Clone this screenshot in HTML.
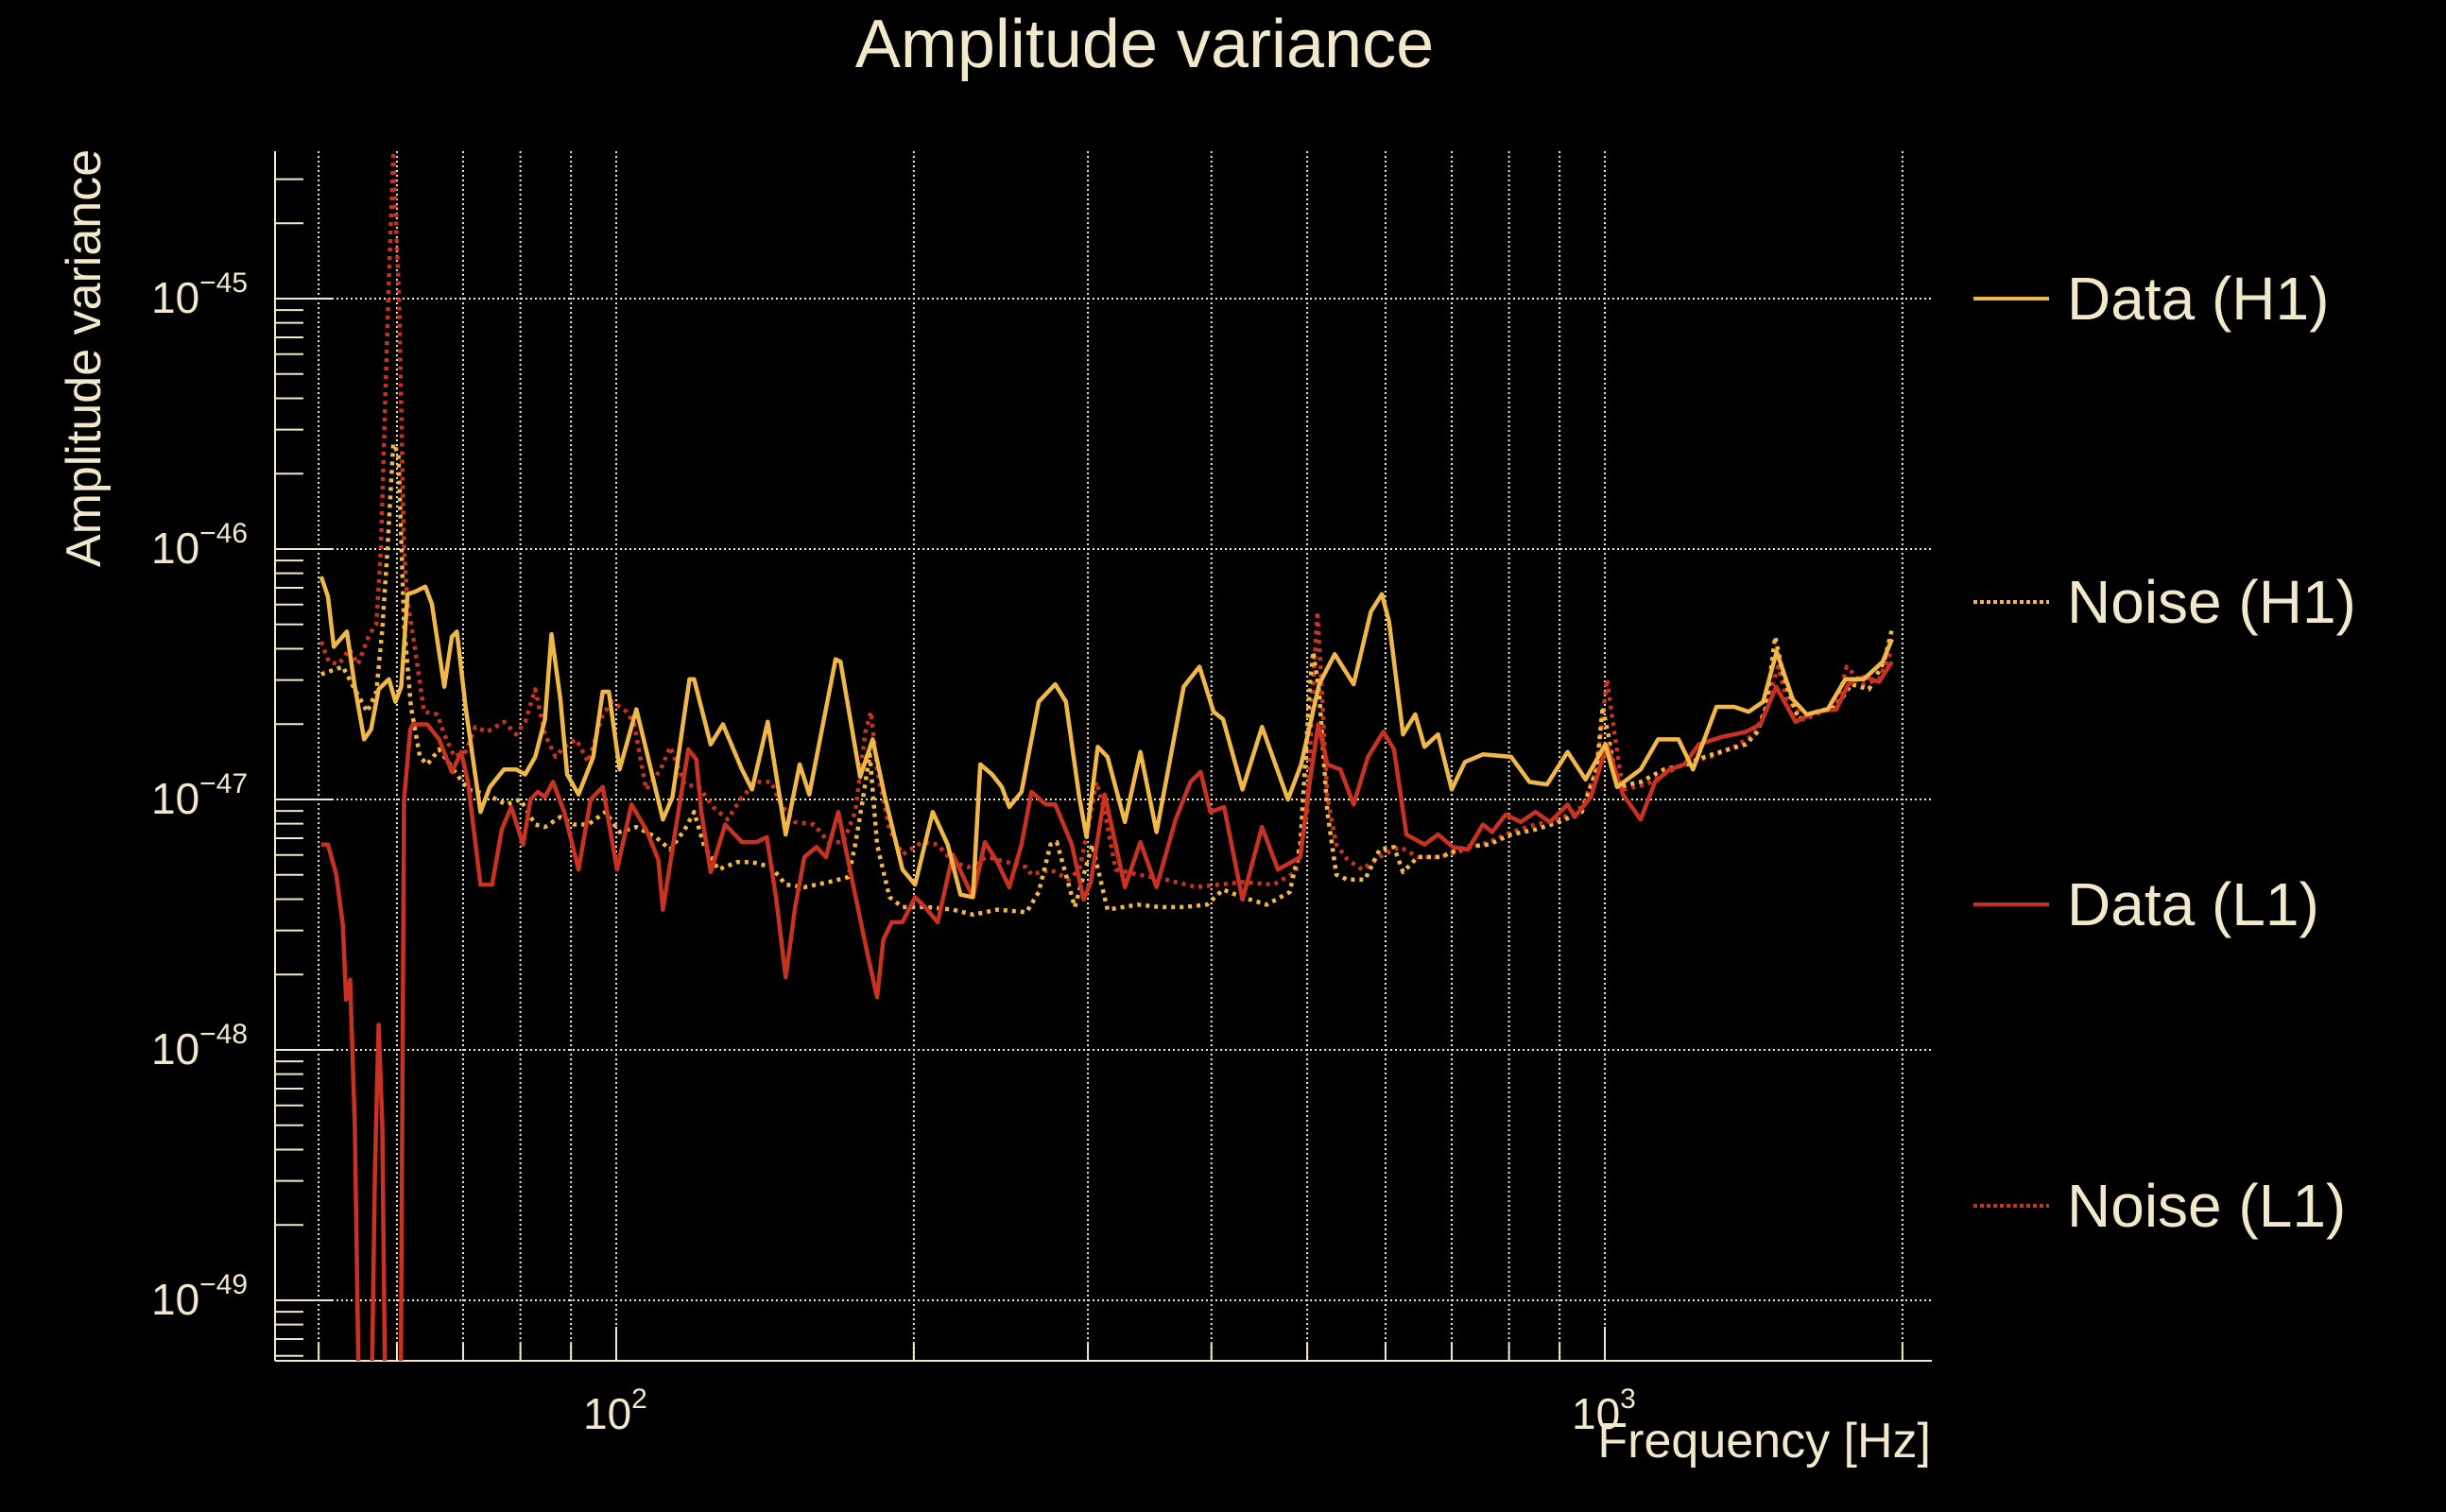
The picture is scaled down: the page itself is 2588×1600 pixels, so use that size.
<!DOCTYPE html>
<html><head><meta charset="utf-8"><style>
html,body{margin:0;padding:0;background:#000;}
svg{display:block;font-family:"Liberation Sans",sans-serif;}
</style></head><body>
<svg id="chart" width="2588" height="1600" viewBox="0 0 2588 1600" xmlns="http://www.w3.org/2000/svg">
<rect width="2588" height="1600" fill="#000"/>
<text x="1211" y="71" font-size="72" fill="#f2e8cc" text-anchor="middle">Amplitude variance</text>
<text transform="translate(106,379) rotate(-90)" font-size="52" fill="#f2e8cc" text-anchor="middle">Amplitude variance</text>
<text x="2043" y="1542" font-size="52" fill="#f2e8cc" text-anchor="end">Frequency [Hz]</text>
<g id="grid"></g><g id="axes"></g>
<defs><clipPath id="plotclip"><rect x="291" y="160" width="1753" height="1280"/></clipPath></defs>
<g id="series" clip-path="url(#plotclip)"></g>
<g id="legend"></g>
</svg>
<script>
// ---- data (frequency in Hz, log10 amplitude variance) ----
const dataH1Freq=[50.3,51.1,51.8,53.4,54.4,55.6,56.5,57.5,58.9,59.8,60.6,61.5,62.6,64.1,65.1,67,68.2,69,70.4,72.9,74.5,77,79.2,80.9,82.8,84.7,86,87.8,89.2,91.6,94.8,96.9,98.3,100.8,104.8,107.2,111.5,114,118.6,119.9,124.6,128.2,134,137.2,142.3,148.4,153.3,156.8,166.7,168.6,176.5,181.7,187,194.8,200.6,209,216.4,223,229.5,233.5,240,245.5,249.8,257,267.5,278,285,294,299,307,314,327,339,352,375,389,402,411,430,450,478,493,514,533,557,580,595,605,625,643,657,678,700,722,753,804,839,874,917,956,1001,1029,1087,1132,1187,1228,1297,1352,1398,1446,1492,1549,1600,1680,1751,1827,1910,1952];
const dataH1Log=[-46.11,-46.19,-46.39,-46.33,-46.55,-46.76,-46.72,-46.56,-46.52,-46.61,-46.55,-46.18,-46.17,-46.15,-46.22,-46.55,-46.35,-46.33,-46.63,-47.05,-46.95,-46.88,-46.88,-46.9,-46.83,-46.68,-46.34,-46.6,-46.9,-46.98,-46.83,-46.57,-46.57,-46.88,-46.64,-46.8,-47.08,-46.99,-46.52,-46.52,-46.78,-46.7,-46.88,-46.96,-46.69,-47.14,-46.86,-46.98,-46.44,-46.45,-46.91,-46.76,-46.99,-47.28,-47.34,-47.05,-47.18,-47.38,-47.39,-46.86,-46.9,-46.95,-47.03,-46.97,-46.61,-46.54,-46.61,-46.99,-47.15,-46.79,-46.83,-47.09,-46.81,-47.13,-46.55,-46.47,-46.65,-46.68,-46.96,-46.71,-47.0,-46.86,-46.54,-46.42,-46.54,-46.25,-46.18,-46.29,-46.74,-46.66,-46.79,-46.74,-46.96,-46.85,-46.82,-46.83,-46.93,-46.94,-46.81,-46.92,-46.78,-46.95,-46.88,-46.76,-46.76,-46.88,-46.63,-46.63,-46.65,-46.61,-46.41,-46.6,-46.66,-46.64,-46.52,-46.52,-46.45,-46.36];
const noiseH1Freq=[50.3,52.9,54.4,56,57.2,58,58.7,59.5,60.2,61,62,63.3,64.4,66.2,69,70.8,74,77.4,80,82.8,84.7,87.8,90.6,93.7,97.5,100.8,104.8,109.6,113.4,117.3,119.9,122.6,126.8,132.6,137.2,143.5,148.4,155,164,171.7,174.5,177.6,180.5,183.6,189,194.8,206.5,219,229.7,243,260,267.5,275,279,285,291,303,314,337,355,375,396,411,430,455,480,492,503,507,514,524,535,549,572,592,612,625,647,682,722,763,804,851,899,948,981,995,1008,1029,1087,1148,1211,1262,1333,1389,1427,1456,1487,1517,1570,1635,1715,1775,1850,1916,1952];
const noiseH1Log=[-46.5,-46.47,-46.56,-46.65,-46.57,-46.32,-46.0,-45.58,-45.62,-46.3,-46.63,-46.83,-46.86,-46.8,-46.9,-46.96,-46.98,-47.02,-47.0,-47.1,-47.11,-47.07,-47.1,-47.1,-47.05,-47.13,-47.11,-47.15,-47.2,-47.12,-47.05,-47.18,-47.28,-47.25,-47.25,-47.27,-47.34,-47.35,-47.33,-47.31,-47.18,-47.0,-46.82,-47.18,-47.39,-47.43,-47.43,-47.44,-47.46,-47.44,-47.45,-47.37,-47.18,-47.17,-47.3,-47.43,-47.18,-47.44,-47.42,-47.43,-47.43,-47.42,-47.36,-47.39,-47.42,-47.37,-47.18,-46.55,-46.41,-46.57,-47.05,-47.3,-47.32,-47.32,-47.2,-47.19,-47.29,-47.23,-47.23,-47.19,-47.18,-47.14,-47.12,-47.09,-47.05,-46.88,-46.63,-46.74,-46.95,-46.93,-46.88,-46.86,-46.83,-46.8,-46.78,-46.73,-46.63,-46.35,-46.51,-46.68,-46.65,-46.63,-46.54,-46.56,-46.45,-46.32];
const dataL1Freq=[50.3,51.1,52.1,52.9,53.3,53.8,54.4,55.2,56.3,57,57.5,58,58.6,60.4,61,61.9,62.3,64.4,66.2,68.2,69.7,70.8,72.9,74.9,76.6,78.3,80.5,81.9,83.3,84.7,86.3,88.6,91.6,94.2,96.9,100.2,103.6,107.2,110.3,111.5,114.6,118.3,120.5,121.9,124.6,128.9,134,138.7,142,145.2,148.4,151.7,155,159.4,163,167.7,173.6,179.6,183.6,186.3,190,194.8,200.6,205.3,211.4,219,229.5,236,243,249.8,257,263,272,278,289,297,302,312,327,339,352,368,381,390,399,412,430,450,467,492,503,513,524,540,557,576,597,612,630,657,678,702,727,753,769,794,822,851,880,917,932,968,1005,1043,1087,1124,1163,1203,1245,1315,1389,1437,1490,1559,1635,1715,1763,1827,1894,1952];
const dataL1Log=[-47.18,-47.18,-47.3,-47.5,-47.8,-47.72,-48.3,-50,-50,-48.5,-47.9,-48.3,-50,-50,-47.0,-46.72,-46.7,-46.7,-46.76,-46.89,-46.81,-46.93,-47.34,-47.34,-47.12,-47.03,-47.18,-47.0,-46.97,-46.99,-46.93,-47.05,-47.28,-47.0,-46.95,-47.28,-47.02,-47.12,-47.24,-47.44,-47.14,-46.8,-46.84,-47.05,-47.29,-47.1,-47.17,-47.17,-47.15,-47.4,-47.71,-47.43,-47.23,-47.19,-47.23,-47.05,-47.34,-47.62,-47.79,-47.56,-47.49,-47.49,-47.39,-47.43,-47.49,-47.22,-47.39,-47.17,-47.25,-47.35,-47.18,-46.97,-47.02,-47.02,-47.18,-47.4,-47.33,-46.98,-47.35,-47.17,-47.35,-47.08,-46.93,-46.89,-47.05,-47.03,-47.4,-47.11,-47.28,-47.23,-46.93,-46.7,-46.86,-46.88,-47.02,-46.83,-46.73,-46.8,-47.14,-47.18,-47.14,-47.19,-47.2,-47.1,-47.13,-47.06,-47.09,-47.05,-47.09,-47.02,-47.07,-46.99,-46.78,-46.98,-47.08,-46.93,-46.88,-46.86,-46.78,-46.75,-46.73,-46.7,-46.55,-46.69,-46.65,-46.64,-46.54,-46.51,-46.53,-46.45];
const noiseL1Freq=[50.3,51.2,52.4,53.7,54.8,56.3,57.2,57.8,58.8,59.5,60.3,61,61.5,62.6,63.9,65.9,67,68.6,70.4,72,74,77,79.2,80.9,82.8,84.7,86.8,88.6,91.1,93.7,96.9,99.1,102.5,104.3,107.2,110.9,113.4,117.3,121.3,125.3,129.6,134,138.7,143.5,146.7,151.7,158.5,164,169.7,174.5,178.7,181,183.6,189,194.8,204,211.4,219,227,237,248.4,260,263,275,287,294,300,306,312,320,337,360,386,407,430,462,487,500,507,512,517,524,535,549,568,597,621,647,682,722,763,804,851,899,948,981,1005,1022,1043,1102,1148,1211,1280,1352,1417,1456,1497,1528,1591,1657,1715,1756,1827,1894,1952];
const noiseL1Log=[-46.37,-46.45,-46.46,-46.4,-46.46,-46.34,-46.3,-46.0,-45.0,-44.43,-45.0,-46.0,-46.21,-46.4,-46.65,-46.66,-46.74,-46.83,-46.81,-46.71,-46.73,-46.69,-46.74,-46.69,-46.56,-46.74,-46.83,-46.79,-46.76,-46.85,-46.66,-46.61,-46.65,-46.7,-46.96,-46.88,-46.79,-46.94,-46.95,-47.03,-47.08,-46.99,-46.93,-46.93,-47.02,-47.09,-47.1,-47.17,-47.17,-47.05,-46.73,-46.65,-46.88,-47.12,-47.22,-47.17,-47.18,-47.25,-47.27,-47.23,-47.25,-47.27,-47.3,-47.28,-47.32,-47.28,-47.12,-46.93,-47.05,-47.28,-47.3,-47.32,-47.35,-47.34,-47.33,-47.34,-47.29,-47.05,-46.55,-46.25,-46.55,-46.99,-47.18,-47.24,-47.28,-47.22,-47.19,-47.23,-47.23,-47.2,-47.17,-47.13,-47.1,-47.08,-47.03,-46.88,-46.52,-46.73,-46.96,-46.94,-46.9,-46.85,-46.83,-46.79,-46.74,-46.63,-46.47,-46.6,-46.68,-46.65,-46.63,-46.47,-46.54,-46.52,-46.4];
const yTickExps=[-45,-46,-47,-48,-49];
const xTickLabels=[{v:100,e:"2"},{v:1000,e:"3"}];
const legendLabels=["Data (H1)","Noise (H1)","Data (L1)","Noise (L1)"];

// ---- axes ----
const X0=291,X1=2044,Y0=160,Y1=1440;
const fmin=Math.pow(10,2-361/1046), fmax=Math.pow(10,3+346/1046);
const lmin=-45-1124/265, lmax=-45+156/265;
function xs(f){return X0+(Math.log10(f)-Math.log10(fmin))/(Math.log10(fmax)-Math.log10(fmin))*(X1-X0);}
function ys(l){return Y1-(l-lmin)/(lmax-lmin)*(Y1-Y0);}
const NS="http://www.w3.org/2000/svg";
const CREAM="#f2e8cc";
function mk(tag,attrs,parent){const e=document.createElementNS(NS,tag);for(const k in attrs)e.setAttribute(k,attrs[k]);parent.appendChild(e);return e;}
const grid=document.getElementById('grid'),axes=document.getElementById('axes'),ser=document.getElementById('series'),leg=document.getElementById('legend');

const xt=[];for(let d=10;d<=1000;d*=10)for(let m=1;m<10;m++){const f=d*m;if(f>=fmin&&f<=fmax)xt.push(f);}
xt.forEach(f=>{const x=xs(f);const major=[100,1000].includes(f);
 const g=mk('line',{x1:x,x2:x,y1:Y0,y2:Y1,stroke:CREAM,'stroke-width':2,'stroke-dasharray':'2,3'},grid);
 
 
 const t=mk('line',{x1:x,x2:x,y1:Y1,y2:Y1-(major?36:18),stroke:CREAM,'stroke-width':2},axes);
 
 
});
for(let e=-50;e<=-44;e++){
 for(let m=1;m<10;m++){const l=e+Math.log10(m);if(l<lmin||l>lmax)continue;const y=ys(l);
  const t=mk('line',{x1:X0,x2:X0+(m===1?60:30),y1:y,y2:y,stroke:CREAM,'stroke-width':2},axes);
  
  
  if(m===1){const g=mk('line',{x1:X0,x2:X1,y1:y,y2:y,stroke:CREAM,'stroke-width':2,'stroke-dasharray':'2,3'},grid);
   
   }
 }
}
mk('line',{x1:X0,x2:X0,y1:Y0,y2:Y1,stroke:CREAM,'stroke-width':2},axes);
mk('line',{x1:X0,x2:X1,y1:Y1,y2:Y1,stroke:CREAM,'stroke-width':2},axes);
yTickExps.forEach(e=>{const y=ys(e);
 const t=mk('text',{x:160,y:y+15,'font-size':46,fill:CREAM},axes);
 
 
 t.textContent='10';
 const s=mk('tspan',{'font-size':30,dy:-22},t);s.textContent='\u2212'+(-e);
});
xTickLabels.forEach(o=>{const x=xs(o.v);
 const t=mk('text',{x:x-35,y:1512,'font-size':46,fill:CREAM},axes);
 
 
 t.textContent='10';
 const s=mk('tspan',{'font-size':30,dy:-22},t);s.textContent=o.e;
});

const seriesDefs=[
 {f:dataH1Freq,v:dataH1Log,c:"#f0b848",d:null,n:"data-h1-line"},
 {f:noiseH1Freq,v:noiseH1Log,c:"#f0b848",d:"4,5",n:"noise-h1-line"},
 {f:dataL1Freq,v:dataL1Log,c:"#c83222",d:null,n:"data-l1-line"},
 {f:noiseL1Freq,v:noiseL1Log,c:"#c83222",d:"4,5",n:"noise-l1-line"}];
[seriesDefs[3],seriesDefs[1],seriesDefs[2],seriesDefs[0]].forEach(s=>{
 const d=s.f.map((f,i)=>(i?'L':'M')+xs(f).toFixed(1)+','+ys(s.v[i]).toFixed(1)).join(' ');
 const p=mk('path',{d:d,fill:'none',stroke:s.c,'stroke-width':4.5,'stroke-linejoin':'round'},ser);
 if(s.d)p.setAttribute('stroke-dasharray',s.d);
 
 
});

const legY=[316,637,957,1276];
seriesDefs.forEach((s,i)=>{
 const g=mk('g',{},leg);
 
 
 const l=mk('line',{x1:2088,x2:2168,y1:legY[i],y2:legY[i],stroke:s.c,'stroke-width':4},g);
 if(s.d)l.setAttribute('stroke-dasharray','4,3');
 const t=mk('text',{x:2187,y:legY[i]+22,'font-size':64,fill:CREAM},g);
 t.textContent=legendLabels[i];
});
</script>
</body></html>
